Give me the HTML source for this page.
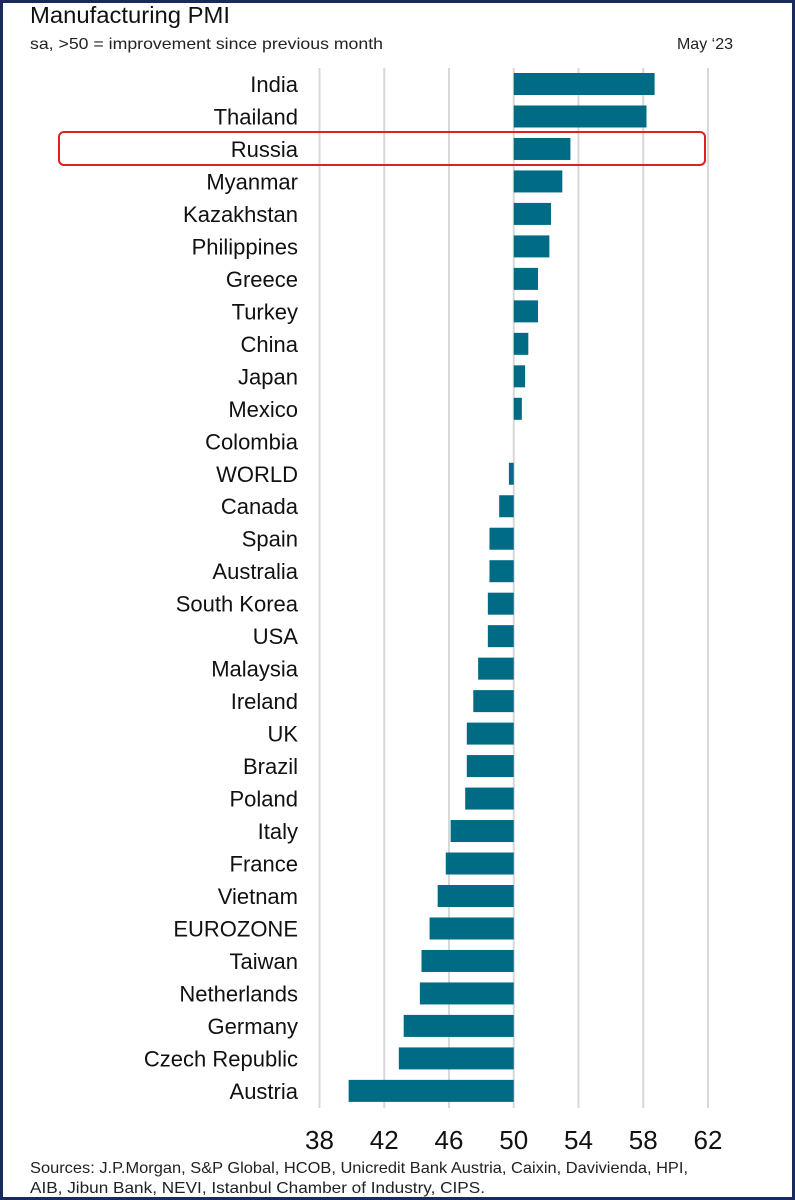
<!DOCTYPE html>
<html><head><meta charset="utf-8"><style>
html,body{margin:0;padding:0;background:#fff;}
body{width:795px;height:1200px;position:relative;overflow:hidden;font-family:"Liberation Sans",sans-serif;}
#frame{position:absolute;left:0;top:0;width:789px;height:1194px;border:3px solid #1a2a5e;}
svg{position:absolute;left:0;top:0;}
</style></head><body>
<div id="frame"></div>
<svg id="chart" width="795" height="1200"></svg>
<script>
const categories=["India","Thailand","Russia","Myanmar","Kazakhstan","Philippines","Greece","Turkey","China","Japan","Mexico","Colombia","WORLD","Canada","Spain","Australia","South Korea","USA","Malaysia","Ireland","UK","Brazil","Poland","Italy","France","Vietnam","EUROZONE","Taiwan","Netherlands","Germany","Czech Republic","Austria"];
const values=[58.7,58.2,53.5,53.0,52.3,52.2,51.5,51.5,50.9,50.7,50.5,50.0,49.7,49.1,48.5,48.5,48.4,48.4,47.8,47.5,47.1,47.1,47.0,46.1,45.8,45.3,44.8,44.3,44.2,43.2,42.9,39.8];
const tickLabels=[38,42,46,50,54,58,62];
const NS="http://www.w3.org/2000/svg";
const svg=document.getElementById('chart');
const x=v=>319.5+(v-38)*(708-319.5)/24;
const y=i=>84+i*32.48;
function mk(t,a,txt){const e=document.createElementNS(NS,t);for(const k in a)e.setAttribute(k,a[k]);if(txt!==undefined)e.textContent=txt;svg.appendChild(e);return e;}
let e;
e=mk('text',{x:30,y:23,'font-size':23,fill:'#111',textLength:200,lengthAdjust:'spacingAndGlyphs'},'Manufacturing PMI');


e=mk('text',{x:30,y:49,'font-size':16,fill:'#222',textLength:353,lengthAdjust:'spacingAndGlyphs'},'sa, >50 = improvement since previous month');


e=mk('text',{x:733,y:49,'font-size':16,fill:'#222','text-anchor':'end'},'May \u201823');


tickLabels.forEach(t=>{
  e=mk('line',{x1:x(t),x2:x(t),y1:68,y2:1108,stroke:'#d8d8d8','stroke-width':2});
  
  
  e=mk('text',{x:x(t),y:1149,'font-size':26,fill:'#111','text-anchor':'middle'},t);
  
  
});
categories.forEach((c,i)=>{
  const v=values[i];
  e=mk('rect',{x:Math.min(x(v),x(50)),y:y(i)-11,width:Math.max(Math.abs(x(v)-x(50)),0),height:22,fill:'#006b84'});
  
  
  e=mk('text',{x:298,y:y(i)+8,'font-size':22,fill:'#111','text-anchor':'end'},c);
  
  
});
e=mk('rect',{x:59,y:y(2)-17,width:646,height:33,rx:5,fill:'none',stroke:'#e02020','stroke-width':2});


e=mk('text',{x:30,y:1173,'font-size':16,fill:'#222',textLength:658,lengthAdjust:'spacingAndGlyphs'},'Sources: J.P.Morgan, S&P Global, HCOB, Unicredit Bank Austria, Caixin, Davivienda, HPI,');


e=mk('text',{x:30,y:1193,'font-size':16,fill:'#222',textLength:455,lengthAdjust:'spacingAndGlyphs'},'AIB, Jibun Bank, NEVI, Istanbul Chamber of Industry, CIPS.');


</script>
</body></html>
